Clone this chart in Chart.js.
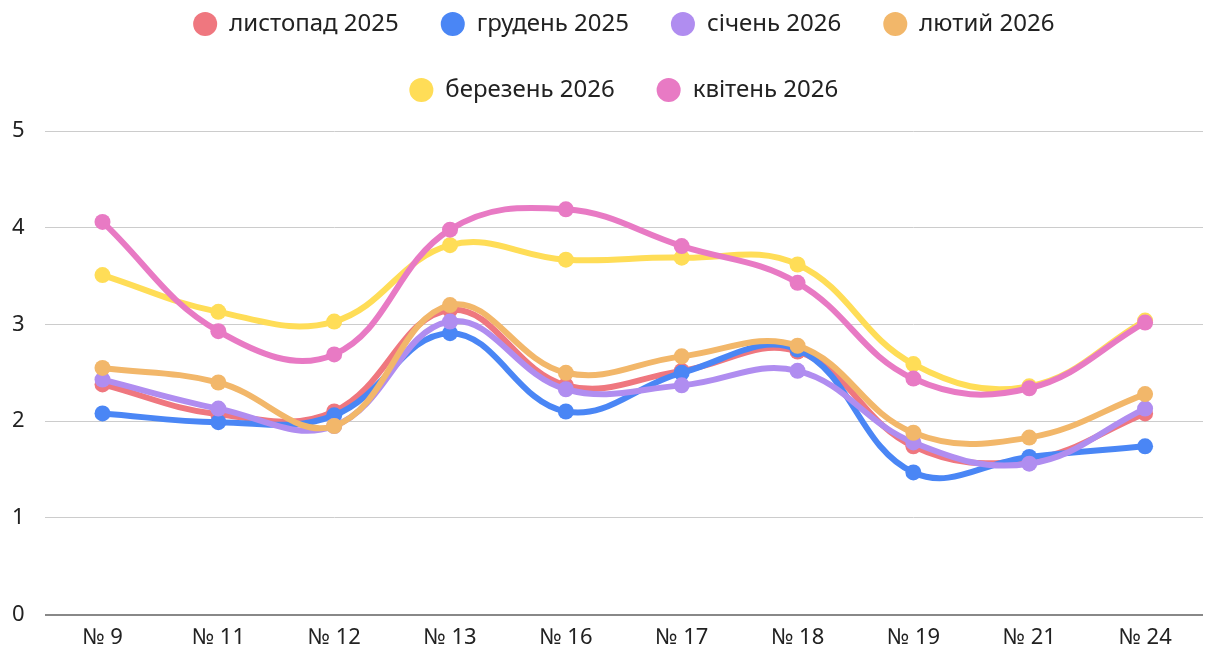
<!DOCTYPE html>
<html lang="uk">
<head>
  <meta charset="UTF-8">
  <title>Середні оцінки</title>
  <script src="https://cdn.jsdelivr.net/npm/chart.js@4.4.1/dist/chart.umd.min.js"></script>
  <style>
    body { margin: 0; background: #fff; }
    .wrap { width: 1213px; height: 650px; }
  </style>
</head>
<body>
  <div class="wrap"><canvas id="chart"></canvas></div>
  <script>
    // categories (school numbers)
    const labels = ['№ 9', '№ 11', '№ 12', '№ 13', '№ 16', '№ 17', '№ 18', '№ 19', '№ 21', '№ 24'];

    const months = ['листопад 2025', 'грудень 2025', 'січень 2026', 'лютий 2026', 'березень 2026', 'квітень 2026'];
    const colors = ['#ef777f', '#4a86f5', '#b08df0', '#f2b76a', '#ffdd57', '#e87ac4'];

    const nov25 = [2.38, 2.07, 2.10, 3.15, 2.37, 2.52, 2.72, 1.74, 1.60, 2.08];
    const dec25 = [2.08, 1.99, 2.06, 2.91, 2.10, 2.50, 2.74, 1.47, 1.63, 1.74];
    const jan26 = [2.43, 2.13, 1.95, 3.03, 2.33, 2.37, 2.52, 1.78, 1.56, 2.13];
    const feb26 = [2.55, 2.40, 1.95, 3.20, 2.50, 2.67, 2.78, 1.88, 1.83, 2.28];
    const mar26 = [3.51, 3.13, 3.03, 3.82, 3.67, 3.69, 3.62, 2.59, 2.36, 3.04];
    const apr26 = [4.06, 2.93, 2.69, 3.98, 4.19, 3.81, 3.43, 2.44, 2.34, 3.02];

    const series = [nov25, dec25, jan26, feb26, mar26, apr26];

    // later months are drawn on top
    const datasets = series.map((data, i) => ({
      label: months[i],
      data: data,
      borderColor: colors[i],
      backgroundColor: colors[i],
      borderWidth: 6,
      pointRadius: 8,
      pointHoverRadius: 8,
      pointBorderWidth: 0,
      tension: 0.4,
      order: -i
    }));

    // extra room between the legend and the plot
    const legendGap = {
      id: 'legendGap',
      afterInit(chart) {
        const fit = chart.legend.fit;
        chart.legend.fit = function () {
          fit.call(this);
          this.height += 19;
        };
      }
    };

    Chart.defaults.font.family = '"Noto Sans", "Open Sans", sans-serif';
    Chart.defaults.color = '#222';

    new Chart(document.getElementById('chart'), {
      type: 'line',
      data: { labels: labels, datasets: datasets },
      plugins: [legendGap],
      options: {
        responsive: true,
        maintainAspectRatio: false,
        animation: false,
        layout: { padding: { left: -8, right: 10, top: -30, bottom: -11 } },
        plugins: {
          legend: {
            position: 'top',
            fullSize: false,
            labels: {
              usePointStyle: true,
              pointStyle: 'circle',
              boxWidth: 24,
              boxHeight: 17,
              padding: 42,
              font: { size: 24 },
              color: '#222',
              sort: (a, b) => a.datasetIndex - b.datasetIndex
            }
          },
          tooltip: { enabled: false }
        },
        scales: {
          x: {
            offset: true,
            grid: { display: false, drawTicks: false },
            border: { display: false },
            ticks: { font: { size: 22 }, padding: 10, color: '#222' }
          },
          y: {
            min: 0,
            max: 5,
            ticks: { stepSize: 1, font: { size: 22 }, padding: 20, color: '#222' },
            border: { display: false },
            grid: {
              drawTicks: false,
              color: ctx => ctx.tick && ctx.tick.value === 0 ? '#888' : '#ccc',
              lineWidth: ctx => ctx.tick && ctx.tick.value === 0 ? 2 : 1
            }
          }
        }
      }
    });
  </script>
</body>
</html>
